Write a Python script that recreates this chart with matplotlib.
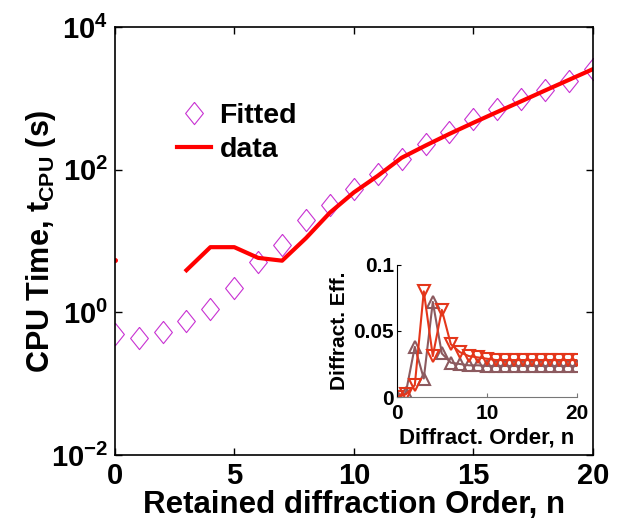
import numpy as np
import matplotlib.pyplot as plt
from matplotlib.ticker import FixedLocator, NullLocator

plt.rcParams['font.family'] = 'Liberation Sans'
plt.rcParams['font.weight'] = 'bold'
plt.rcParams['mathtext.fontset'] = 'custom'
plt.rcParams['mathtext.rm'] = 'Liberation Sans:bold'
plt.rcParams['mathtext.it'] = 'Liberation Sans:bold'
plt.rcParams['mathtext.bf'] = 'Liberation Sans:bold'
plt.rcParams['axes.unicode_minus'] = False

# main plot data
order = np.arange(0, 21)
cpu_data = [5.5, np.nan, np.nan, 3.9, 8.2, 8.2, 5.8, 5.3, 11, 25, 48, 82,
            147, 218, 318, 455, 645, 910, 1290, 1820, 2570]
cpu_fitted = [0.49, 0.43, 0.53, 0.75, 1.1, 2.2, 5.0, 8.7, 19.4, 32, 54, 88,
              142, 230, 340, 510, 710, 980, 1320, 1740, 2570]

# inset data
eff_a = [0.001, 0.003, 0.038, 0.014, 0.072, 0.033, 0.026, 0.025, 0.024, 0.024,
         0.0235, 0.0235, 0.0235, 0.0235, 0.0235, 0.0235, 0.0235, 0.0235,
         0.0235, 0.0235, 0.0235]
eff_b = [0.0, 0.002, 0.009, 0.080, 0.031, 0.066, 0.040, 0.034, 0.031, 0.030,
         0.029, 0.028, 0.028, 0.028, 0.028, 0.028, 0.028, 0.028, 0.028,
         0.028, 0.028]

ytick_vals = [1e-2, 1e0, 1e2, 1e4]
ytick_labels = ['$10^{-2}$', '$10^{0}$', '$10^{2}$', '$10^{4}$']

diamond = [(0, 1), (0.8, 0), (0, -1), (-0.8, 0), (0, 1)]

fig = plt.figure(figsize=(6.41, 5.2), dpi=100)
ax = fig.add_axes([0.179, 0.125, 0.746, 0.823])

ax.plot(order, cpu_fitted, linestyle='none', marker=diamond, markersize=16,
        markerfacecolor='none', markeredgecolor='#C832D2', markeredgewidth=0.8,
        label='Fitted')
ax.plot(order, cpu_data, color='#FF0000', linewidth=3, label='data')
# isolated first sample shows only as a dot
ax.plot(order[:1], cpu_data[:1], color='#FF0000', linestyle='none',
        marker='o', markersize=2.5)

ax.set_yscale('log')
ax.set_xlim(0, 20)
ax.set_ylim(1e-2, 1e4)
ax.yaxis.set_major_locator(FixedLocator(ytick_vals))
ax.yaxis.set_minor_locator(NullLocator())
ax.set_yticklabels(ytick_labels)
ax.set_xticks([0, 5, 10, 15, 20])
ax.tick_params(direction='in', top=True, right=True, labelsize=21,
               length=5, width=1, pad=5)
for s in ax.spines.values():
    s.set_linewidth(1.2)
ax.set_xlabel('Retained diffraction Order, n', fontsize=22.5, fontweight='bold',
              labelpad=0)
ax.set_ylabel('CPU Time, t$_{CPU}$ (s)', fontsize=22, fontweight='bold',
              labelpad=-5)

leg = ax.legend(loc='upper left', bbox_to_anchor=(0.106, 0.85), frameon=False,
                fontsize=20.5, handlelength=1.2, handletextpad=0.3,
                labelspacing=0.3, borderaxespad=0)

# inset
ins = fig.add_axes([0.619, 0.2365, 0.281, 0.254])
ins.plot(order, eff_a, color='#8C5A5F', linewidth=1.5, marker='^',
         markersize=8, markerfacecolor='none', markeredgewidth=1.5)
ins.plot(order, eff_b, color='#E4361A', linewidth=1.5, marker='v',
         markersize=8, markerfacecolor='none', markeredgewidth=1.5)
ins.set_xlim(0, 20)
ins.set_ylim(0, 0.1)
ins.set_xticks([0, 10, 20])
ins.set_yticks([0, 0.05, 0.1])
ins.set_yticklabels(['0', '0.05', '0.1'])
ins.patch.set_alpha(0)
ins.spines['top'].set_visible(False)
ins.spines['right'].set_visible(False)
ins.spines['bottom'].set_color('#777777')
ins.tick_params(direction='in', labelsize=15, length=3, pad=2)
ins.tick_params(axis='x', colors='#777777', labelcolor='black', pad=5)
ins.set_xlabel('Diffract. Order, n', fontsize=16, fontweight='bold', labelpad=3)
ins.set_ylabel('Diffract. Eff.', fontsize=15, fontweight='bold', labelpad=3)

fig.savefig('out.png', dpi=100)
